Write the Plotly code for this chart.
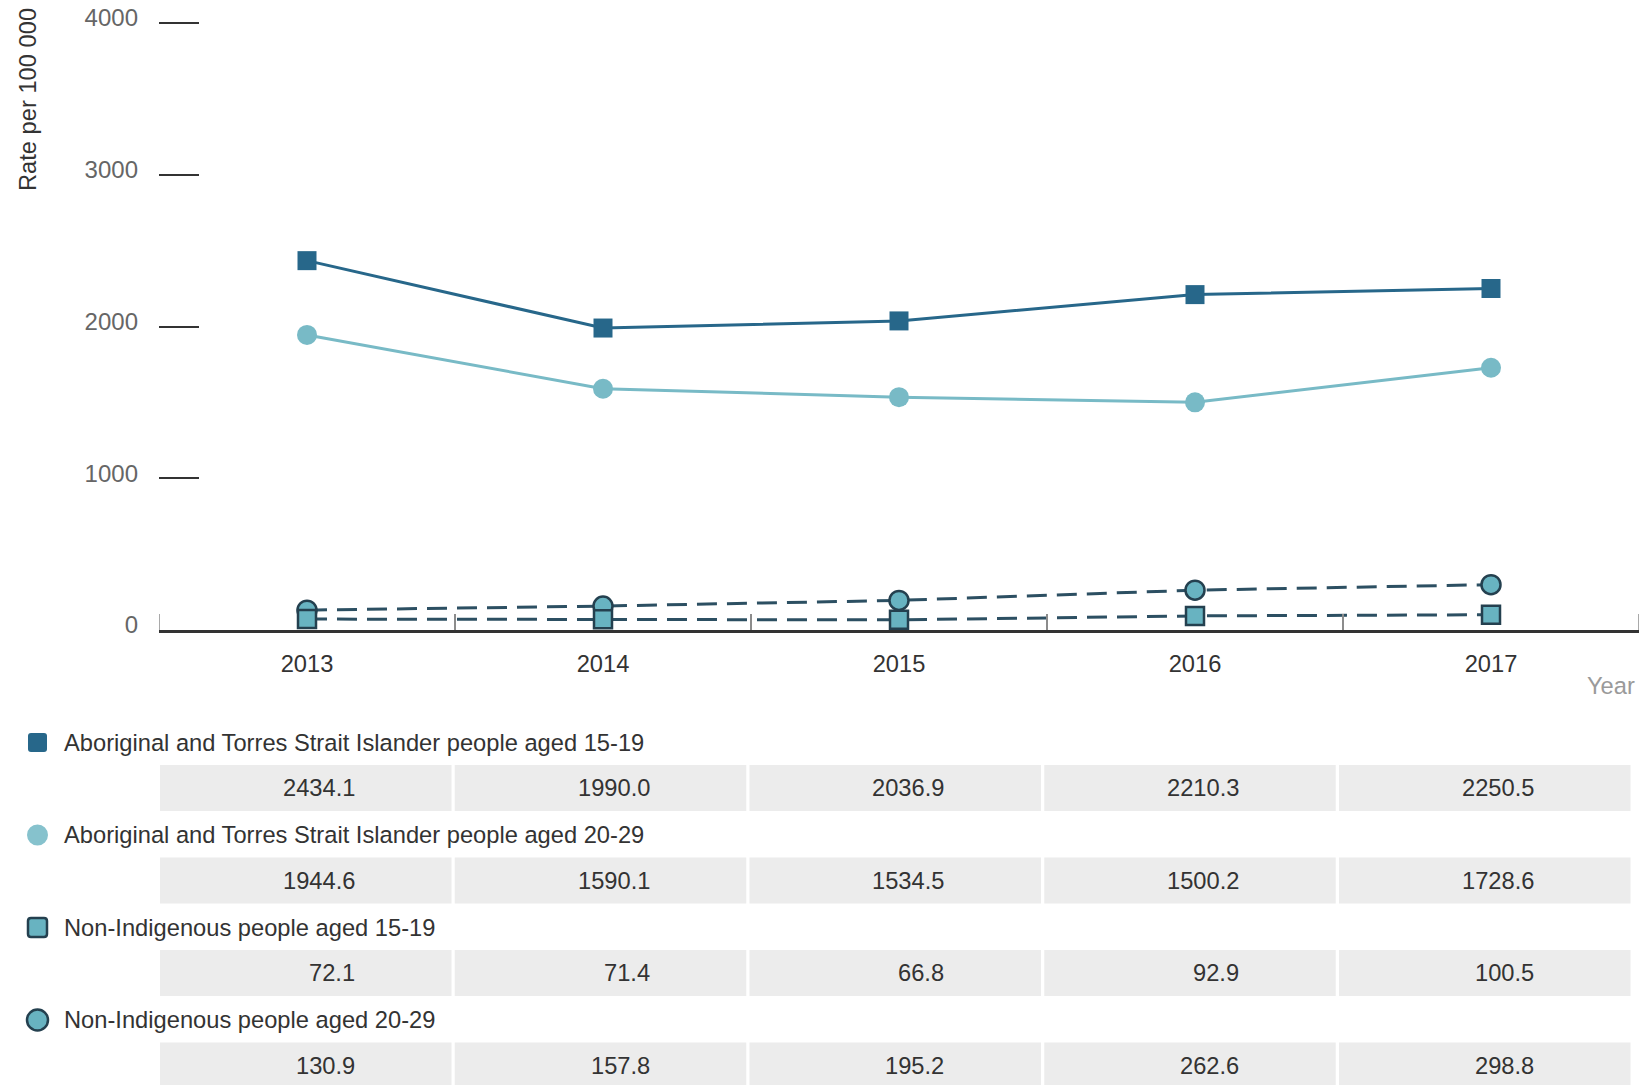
import plotly.graph_objects as go

# ---- data -------------------------------------------------------------
years = ["2013", "2014", "2015", "2016", "2017"]
ab_15_19 = [2434.1, 1990.0, 2036.9, 2210.3, 2250.5]
ab_20_29 = [1944.6, 1590.1, 1534.5, 1500.2, 1728.6]
non_15_19 = [72.1, 71.4, 66.8, 92.9, 100.5]
non_20_29 = [130.9, 157.8, 195.2, 262.6, 298.8]
series_names = [
    "Aboriginal and Torres Strait Islander people aged 15-19",
    "Aboriginal and Torres Strait Islander people aged 20-29",
    "Non-Indigenous people aged 15-19",
    "Non-Indigenous people aged 20-29",
]
y_ticks = [0, 1000, 2000, 3000, 4000]

# ---- style ------------------------------------------------------------
FONT = "Liberation Sans, Arial, sans-serif"
FS = 23.7
DARK = "#27678a"
LIGHT = "#78bac6"
FILL = "#68b3c1"
EDGE = "#24404f"
DASH = "#2c4f62"
TEXT = "#333333"

W, H = 1642, 1085
L, R, T, B = 159, 3, 20, 455
PW, PH = W - L - R, H - T - B
BOTTOM = H - B
Y_MAX = 4020  # a little headroom so the 4000 tick is drawn


def px_x(px):
    return (px - L) / PW


def px_y(py):
    return (BOTTOM - py) / PH


fig = go.Figure()

# dashed non-Indigenous series first so the solid series sit on top
fig.add_trace(go.Scatter(
    x=years, y=non_20_29, name=series_names[3], mode="lines+markers",
    line=dict(color=DASH, width=3, dash="20px,10px"),
    marker=dict(symbol="circle", size=19, color=FILL,
                line=dict(color=EDGE, width=2.5)),
    cliponaxis=False,
))
fig.add_trace(go.Scatter(
    x=years, y=non_15_19, name=series_names[2], mode="lines+markers",
    line=dict(color=DASH, width=3, dash="20px,10px"),
    marker=dict(symbol="square", size=18, color=FILL,
                line=dict(color=EDGE, width=2.5)),
    cliponaxis=False,
))
fig.add_trace(go.Scatter(
    x=years, y=ab_20_29, name=series_names[1], mode="lines+markers",
    line=dict(color=LIGHT, width=3),
    marker=dict(symbol="circle", size=20, color=LIGHT),
    cliponaxis=False,
))
fig.add_trace(go.Scatter(
    x=years, y=ab_15_19, name=series_names[0], mode="lines+markers",
    line=dict(color=DARK, width=3),
    marker=dict(symbol="square", size=19, color=DARK),
    cliponaxis=False,
))


def rounded_rect(cx, cy, w, h, r):
    """SVG path (paper units) for a rounded rectangle given in pixels."""
    x0, x1 = cx - w / 2, cx + w / 2
    y0, y1 = cy - h / 2, cy + h / 2

    def p(x, y):
        return f"{px_x(x):.6f},{px_y(y):.6f}"

    return (
        f"M{p(x0 + r, y0)} L{p(x1 - r, y0)} Q{p(x1, y0)} {p(x1, y0 + r)} "
        f"L{p(x1, y1 - r)} Q{p(x1, y1)} {p(x1 - r, y1)} "
        f"L{p(x0 + r, y1)} Q{p(x0, y1)} {p(x0, y1 - r)} "
        f"L{p(x0, y0 + r)} Q{p(x0, y0)} {p(x0 + r, y0)} Z"
    )


shapes = []
annotations = []

# end ticks of the category axis (outer boundaries)
for xb in (-0.5, 4.5):
    shapes.append(dict(
        type="line", xref="x", yref="paper", x0=xb, x1=xb,
        y0=0, y1=16 / PH, line=dict(color="#8c8c8c", width=1.5),
    ))

# legend rows with value tables underneath
table_rows = [ab_15_19, ab_20_29, non_15_19, non_20_29]
icon_styles = [
    ("square", DARK, DARK, 0),
    ("circle", "#86c2cd", "#86c2cd", 0),
    ("square", FILL, EDGE, 2.5),
    ("circle", FILL, EDGE, 2.5),
]
ROW_STEP = 92.5
CELL_LEFT0, CELL_STEP, CELL_W, CELL_H = 160, 294.75, 291.5, 46

for i, (name, values) in enumerate(zip(series_names, table_rows)):
    ly = 742.5 + ROW_STEP * i
    cy = 788 + ROW_STEP * i
    kind, fill, edge, ew = icon_styles[i]
    if kind == "square":
        shapes.append(dict(
            type="path", xref="paper", yref="paper",
            path=rounded_rect(37.5, ly, 19, 19, 3),
            fillcolor=fill, line=dict(color=edge, width=ew if ew else 0),
            layer="above",
        ))
    else:
        rr = 10.5
        shapes.append(dict(
            type="circle", xref="paper", yref="paper",
            x0=px_x(37.5 - rr), x1=px_x(37.5 + rr),
            y0=px_y(ly + rr), y1=px_y(ly - rr),
            fillcolor=fill, line=dict(color=edge, width=ew if ew else 0),
            layer="above",
        ))
    annotations.append(dict(
        xref="paper", yref="paper", x=px_x(62), y=px_y(ly),
        xanchor="left", yanchor="middle", showarrow=False,
        text=name, font=dict(family=FONT, size=FS, color=TEXT),
    ))
    for j, v in enumerate(values):
        left = CELL_LEFT0 + CELL_STEP * j
        shapes.append(dict(
            type="rect", xref="paper", yref="paper",
            x0=px_x(left), x1=px_x(left + CELL_W),
            y0=px_y(cy + CELL_H / 2), y1=px_y(cy - CELL_H / 2),
            fillcolor="#ececec", line=dict(width=0), layer="below",
        ))
        annotations.append(dict(
            xref="paper", yref="paper",
            x=px_x(left + CELL_W / 2 + 51), y=px_y(cy),
            xanchor="right", yanchor="middle", showarrow=False,
            text=f"{v:.1f}", font=dict(family=FONT, size=FS, color=TEXT),
        ))

# axis titles
annotations.append(dict(
    xref="paper", yref="paper", x=px_x(28), y=px_y(100),
    xanchor="center", yanchor="middle", textangle=-90, showarrow=False,
    text="Rate per 100 000", font=dict(family=FONT, size=FS, color=TEXT),
))
annotations.append(dict(
    xref="paper", yref="paper", x=px_x(1637), y=px_y(686),
    xanchor="right", yanchor="middle", showarrow=False,
    text="Year", font=dict(family=FONT, size=FS, color="#9a9a9a"),
))

fig.update_layout(
    width=W, height=H, autosize=False,
    margin=dict(l=L, r=R, t=T, b=B, pad=0),
    paper_bgcolor="white", plot_bgcolor="white",
    showlegend=False,
    font=dict(family=FONT, color=TEXT),
    shapes=shapes, annotations=annotations,
    xaxis=dict(
        type="category", range=[-0.5, 4.5],
        showgrid=False, zeroline=False,
        showline=True, linecolor=TEXT, linewidth=3,
        ticks="inside", tickson="boundaries", ticklen=16,
        tickwidth=1.5, tickcolor="#8c8c8c",
        tickfont=dict(family=FONT, size=FS, color=TEXT),
        ticklabelstandoff=11,
    ),
    yaxis=dict(
        range=[0, Y_MAX], tickvals=y_ticks,
        ticktext=[str(t) for t in y_ticks],
        showgrid=False, zeroline=False, showline=False,
        ticks="inside", ticklen=40, tickwidth=1.5, tickcolor=TEXT,
        tickfont=dict(family=FONT, size=24, color="#666666"),
        ticklabelstandoff=20, ticklabelshift=-5,
    ),
)

fig.write_html("out.html")
